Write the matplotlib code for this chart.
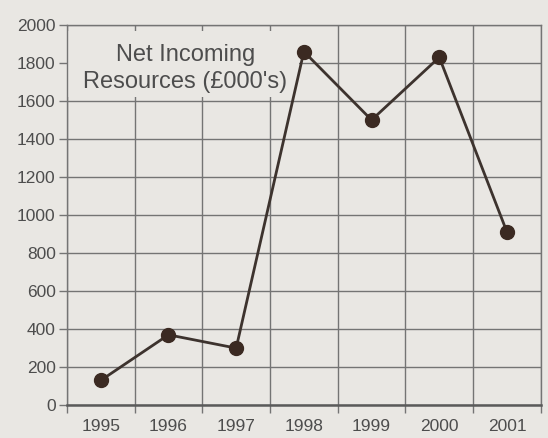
import numpy as np
import matplotlib
matplotlib.use("Agg")
import matplotlib.pyplot as plt
from matplotlib.patches import Rectangle

years = ["1995", "1996", "1997", "1998", "1999", "2000", "2001"]
income = [130, 370, 300, 1860, 1500, 1830, 910]
yticks = [0, 200, 400, 600, 800, 1000, 1200, 1400, 1600, 1800, 2000]

bg = "#e9e7e3"
grid_col = "#747474"
txt_col = "#4d4d4d"

plt.rcParams['font.family'] = ['Liberation Sans', 'DejaVu Sans']

fig = plt.figure(figsize=(5.48, 4.38), dpi=100, facecolor=bg)
ax = fig.add_axes([0.122, 0.075, 0.865, 0.868], facecolor=bg)

x = np.arange(len(years))
ax.set_xlim(-0.5, len(years) - 0.5)
ax.set_ylim(0, 2000)

# grid at category boundaries and every 200
ax.set_xticks(x)
ax.set_xticklabels(years)
ax.set_xticks(np.arange(len(years) + 1) - 0.5, minor=True)
ax.set_yticks(yticks)
ax.grid(True, which="minor", axis="x", color=grid_col, lw=1.0, zorder=1)
ax.grid(True, which="major", axis="y", color=grid_col, lw=1.0, zorder=1)
ax.set_axisbelow(True)

ax.tick_params(axis="x", which="major", length=0, pad=10, labelsize=12.5, labelcolor=txt_col)
ax.tick_params(axis="x", which="minor", length=6, width=1.0, color=grid_col, direction="out")
ax.tick_params(axis="y", length=6, width=1.0, color=grid_col, pad=2, labelsize=12.5, labelcolor=txt_col)

for s in ax.spines.values():
    s.set_color(grid_col)
    s.set_linewidth(1.0)
ax.spines["bottom"].set_linewidth(1.8)
ax.spines["bottom"].set_color("#5a5a5a")

# label box hides the grid behind the title text
ax.add_patch(Rectangle((0, 0.81), 0.49, 0.175, transform=ax.transAxes,
                       facecolor=bg, edgecolor="none", zorder=2))
ax.text(0.25, 0.885, "Net Incoming\nResources (£000's)", transform=ax.transAxes,
        ha="center", va="center", fontsize=17, color=txt_col, linespacing=1.3, zorder=3)

ax.plot(x, income, color="#3d332e", lw=2, marker="o", markersize=10,
        markerfacecolor="#3b2a22", markeredgecolor="#3b2a22", zorder=4, clip_on=False)

fig.savefig("out.png", dpi=100, facecolor=bg)
